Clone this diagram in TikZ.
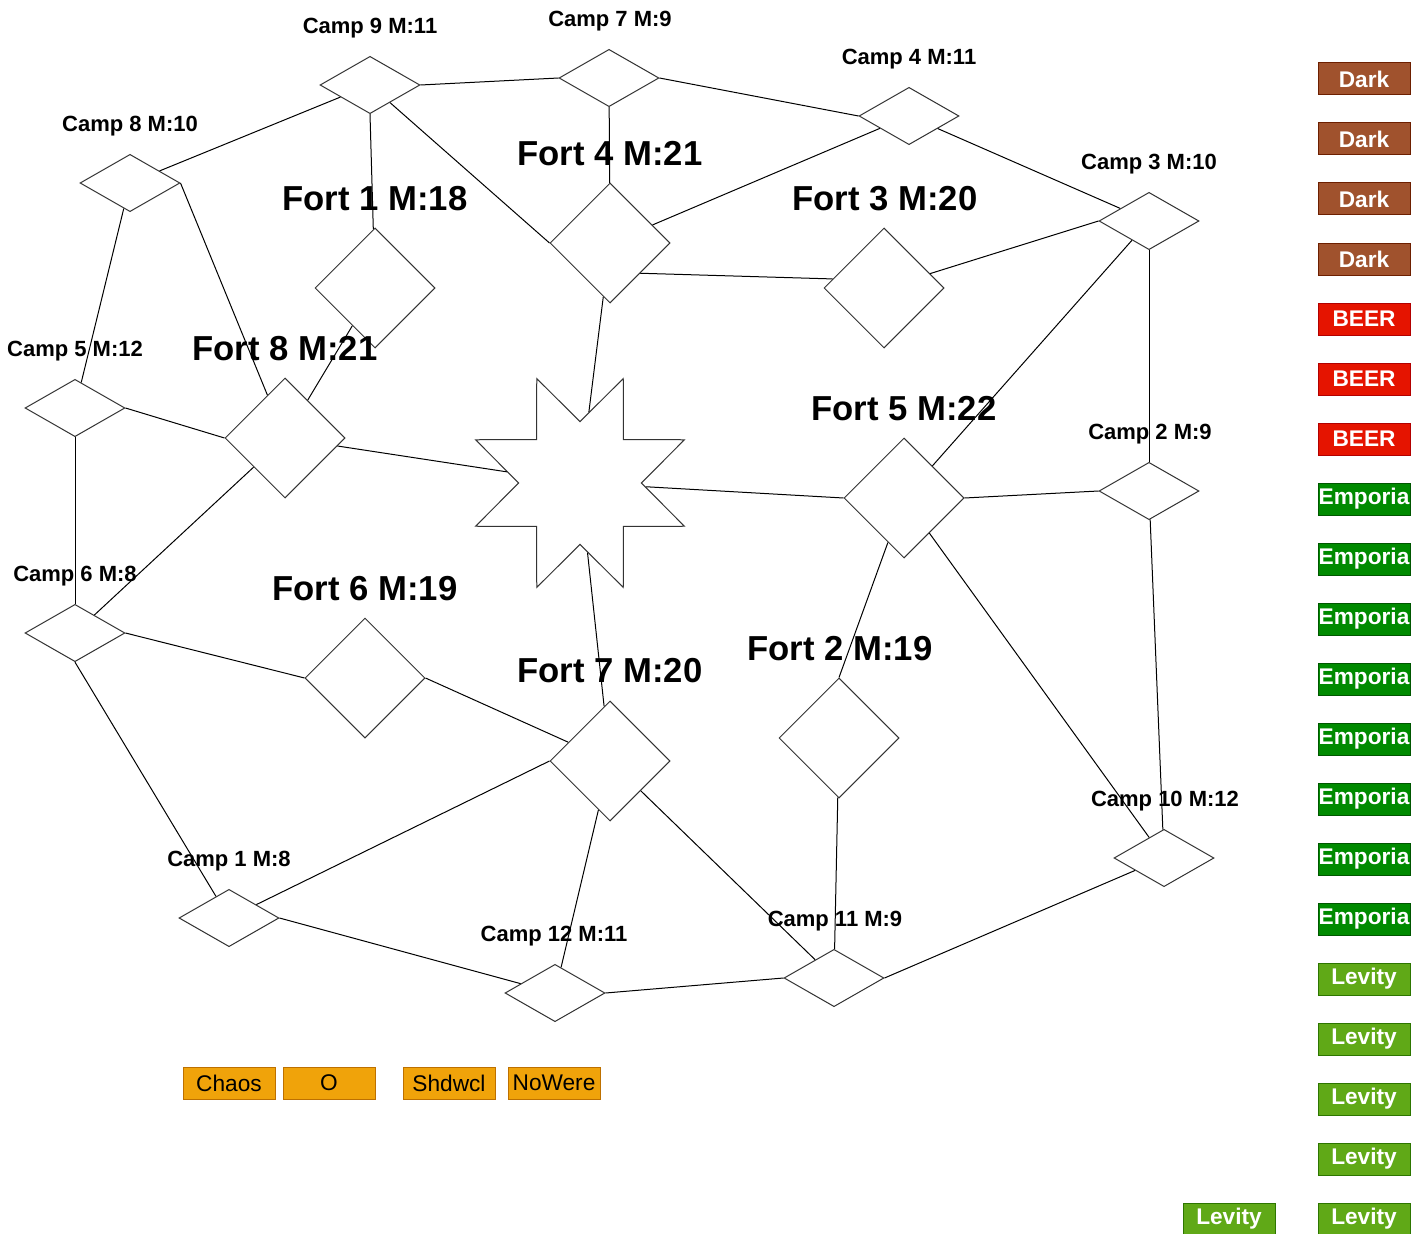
\documentclass[tikz,border=0pt]{standalone}
\usepackage{fontspec}
\setmainfont{Liberation Sans}
\usetikzlibrary{shapes.geometric}

\definecolor{darkfill}{RGB}{160,82,45}
\definecolor{darkline}{RGB}{109,31,0}
\definecolor{beerfill}{RGB}{229,20,0}
\definecolor{beerline}{RGB}{178,0,0}
\definecolor{empfill}{RGB}{0,138,0}
\definecolor{empline}{RGB}{0,87,0}
\definecolor{levfill}{RGB}{96,169,23}
\definecolor{levline}{RGB}{45,118,0}
\definecolor{orgfill}{RGB}{240,163,10}
\definecolor{orgline}{RGB}{189,112,0}
\definecolor{shapeline}{RGB}{51,51,51}

\tikzset{every picture/.style={line width=0.75pt}}
\tikzset{
	camp/.style={draw=shapeline, diamond, minimum width=75pt, minimum height=43pt, inner sep=0pt},
	fort/.style={draw=shapeline, diamond, minimum width=90pt, minimum height=90pt, inner sep=0pt},
	burst/.style={draw=shapeline, star, star points=8, star point ratio=1.84, shape border rotate=22.5, minimum size=169.5pt, inner sep=0pt},
	camplabel/.style={font=\bfseries\fontsize{16.5}{18}\selectfont},
	fortlabel/.style={font=\bfseries\fontsize{26}{30}\selectfont},
	tag/.style={minimum width=69pt, minimum height=24pt, inner sep=0pt, font=\bfseries\fontsize{17}{20}\selectfont, text=white},
	dark/.style={tag, fill=darkfill, draw=darkline},
	beer/.style={tag, fill=beerfill, draw=beerline},
	emporia/.style={tag, fill=empfill, draw=empline},
	levity/.style={tag, fill=levfill, draw=levline},
	faction/.style={tag, fill=orgfill, draw=orgline, text=black, font=\fontsize{17}{20}\selectfont}
}

\begin{document}
\begin{tikzpicture}[x=0.75pt,y=0.75pt,yscale=-1,xscale=1]
	\useasboundingbox (0,0) rectangle (1428,1234);

	%Shape: Diamond (camps)
	\node[camp] (c9) at (370,85) {};
	\node[camp] (c7) at (609,78) {};
	\node[camp] (c4) at (909,116) {};
	\node[camp] (c8) at (130,183) {};
	\node[camp] (c3) at (1149,221) {};
	\node[camp] (c5) at (75,408) {};
	\node[camp] (c2) at (1149,491) {};
	\node[camp] (c6) at (75,633) {};
	\node[camp] (c10) at (1164,858) {};
	\node[camp] (c1) at (229,918) {};
	\node[camp] (c12) at (555,993) {};
	\node[camp] (c11) at (834,978) {};

	%Shape: Diamond (forts)
	\node[fort] (f1) at (375,288) {};
	\node[fort] (f4) at (610,243) {};
	\node[fort] (f3) at (884,288) {};
	\node[fort] (f8) at (285,438) {};
	\node[fort] (f5) at (904,498) {};
	\node[fort] (f6) at (365,678) {};
	\node[fort] (f7) at (610,761) {};
	\node[fort] (f2) at (839,738) {};

	%Shape: Star
	\node[burst] (hub) at (580,483) {};

	% Text Node
	\node[camplabel] (c9t) at (370,28) {Camp 9 M:11};
	\node[camplabel] (c7t) at (610,21) {Camp 7 M:9};
	\node[camplabel] (c4t) at (909,59) {Camp 4 M:11};
	\node[camplabel] (c8t) at (130,126) {Camp 8 M:10};
	\node[camplabel] (c3t) at (1149,164) {Camp 3 M:10};
	\node[camplabel] (c5t) at (75,351) {Camp 5 M:12};
	\node[camplabel] (c2t) at (1150,434) {Camp 2 M:9};
	\node[camplabel] (c6t) at (75,576) {Camp 6 M:8};
	\node[camplabel] (c10t) at (1165,801) {Camp 10 M:12};
	\node[camplabel] (c1t) at (229,861) {Camp 1 M:8};
	\node[camplabel] (c12t) at (554,936) {Camp 12 M:11};
	\node[camplabel] (c11t) at (835,921) {Camp 11 M:9};
	% Text Node
	\node[fortlabel] (f1t) at (375,199) {Fort 1 M:18};
	\node[fortlabel] (f4t) at (610,154) {Fort 4 M:21};
	\node[fortlabel] (f3t) at (885,199) {Fort 3 M:20};
	\node[fortlabel] (f8t) at (285,349) {Fort 8 M:21};
	\node[fortlabel] (f5t) at (904,409) {Fort 5 M:22};
	\node[fortlabel] (f6t) at (365,589) {Fort 6 M:19};
	\node[fortlabel] (f7t) at (610,671) {Fort 7 M:20};
	\node[fortlabel] (f2t) at (840,649) {Fort 2 M:19};

	%Straight Lines
	\draw (c9) -- (c8);
	\draw (c9.east) -- (c7.west);
	\draw (c9.south) -- (f1);
	\draw (c9) -- (f4.west);
	\draw (c7.east) -- (c4.west);
	\draw (c7) -- (f4);
	\draw (c4) -- (f4);
	\draw (c4) -- (c3);
	\draw (f4.south east) -- (f3.170);
	\draw (f3) -- (c3.west);
	\draw (c3) -- (f5);
	\draw (c3.south) -- (c2.north);
	\draw (c8) -- (c5);
	\draw (c8.east) -- (f8);
	\draw (f1) -- (f8);
	\draw (c5.east) -- (f8.west);
	\draw (c5.south) -- (c6.north);
	\draw (f8) -- (c6);
	\draw (f8) -- (hub);
	\draw (f4) -- (hub);
	\draw (hub) -- (f5.west);
	\draw (hub) -- (f7);
	\draw (c6.east) -- (f6.west);
	\draw (c6.south) -- (c1);
	\draw (f6.east) -- (f7);
	\draw (f7.west) -- (c1);
	\draw (c1.east) -- (c12);
	\draw (f7) -- (c12);
	\draw (f7) -- (c11);
	\draw (c12.east) -- (c11.west);
	\draw (f5.east) -- (c2.west);
	\draw (f5) -- (f2.north);
	\draw (f5) -- (c10);
	\draw (c2) -- (c10);
	\draw (f2) -- (c11);
	\draw (c11.east) -- (c10);

	%Rectangle: tags
	\node[dark] (t1) at (1364,79) {Dark};
	\node[dark] (t2) at (1364,139) {Dark};
	\node[dark] (t3) at (1364,199) {Dark};
	\node[dark] (t4) at (1364,259) {Dark};
	\node[beer] (t5) at (1364,319) {BEER};
	\node[beer] (t6) at (1364,379) {BEER};
	\node[beer] (t7) at (1364,439) {BEER};
	\node[emporia] (t8) at (1364,499) {Emporia};
	\node[emporia] (t9) at (1364,559) {Emporia};
	\node[emporia] (t10) at (1364,619) {Emporia};
	\node[emporia] (t11) at (1364,679) {Emporia};
	\node[emporia] (t12) at (1364,739) {Emporia};
	\node[emporia] (t13) at (1364,799) {Emporia};
	\node[emporia] (t14) at (1364,859) {Emporia};
	\node[emporia] (t15) at (1364,919) {Emporia};
	\node[levity] (t16) at (1364,979) {Levity};
	\node[levity] (t17) at (1364,1039) {Levity};
	\node[levity] (t18) at (1364,1099) {Levity};
	\node[levity] (t19) at (1364,1159) {Levity};
	\node[levity] (t20) at (1364,1219) {Levity};
	\node[levity] (t21) at (1229,1219) {Levity};

	%Rectangle: factions
	\node[faction] (chaos) at (229,1083) {Chaos};
	\node[faction] (o) at (329,1083) {O};
	\node[faction] (shdwcl) at (449,1083) {Shdwcl};
	\node[faction] (nowere) at (554,1083) {NoWere};

\end{tikzpicture}
\end{document}
